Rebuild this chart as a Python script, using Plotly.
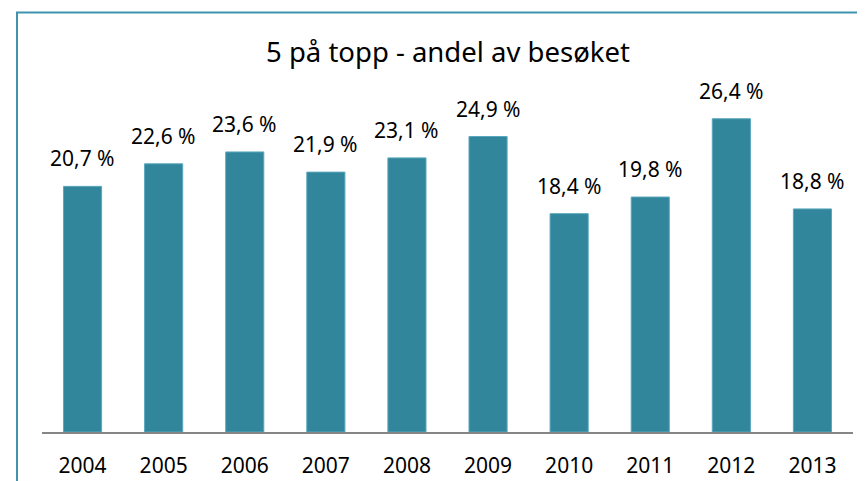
import plotly.graph_objects as go

years = [2004, 2005, 2006, 2007, 2008, 2009, 2010, 2011, 2012, 2013]
shares = [20.7, 22.6, 23.6, 21.9, 23.1, 24.9, 18.4, 19.8, 26.4, 18.8]
labels = [f"{v:.1f} %".replace(".", ",") for v in shares]
year_labels = [str(y) for y in years]
title_text = "5 på topp - andel av besøket"

FONT = "Noto Sans"
BAR = "#31869b"

# The page body has an 8px margin, so the figure is drawn offset by (8, 8).
OFF = 8
W, H = 865 - OFF, 481 - OFF
ml, mr, mt, mb = 42 - OFF, 12, 75.5 - OFF, 49
pw = W - ml - mr
ph = H - mt - mb


def px(xp):
    return (xp - OFF - ml) / pw


def py(yp):
    return (H - mb - (yp - OFF)) / ph


fig = go.Figure()
fig.add_trace(go.Bar(
    x=years, y=shares,
    marker=dict(color=BAR, line=dict(color="#5aa8bd", width=1)),
    width=0.47,
    hoverinfo="x+y",
))

for x, y, t in zip(years, shares, labels):
    fig.add_annotation(x=x, y=y, text=t, showarrow=False, yanchor="bottom",
                       yshift=12, font=dict(family=FONT, size=21, color="#000000"))

fig.add_shape(type="rect", xref="paper", yref="paper",
              x0=px(17), x1=px(900), y0=py(520), y1=py(12),
              line=dict(color="#3f93ad", width=2), fillcolor="rgba(0,0,0,0)",
              layer="above")

fig.update_layout(
    width=W, height=H,
    margin=dict(l=ml, r=mr, t=mt, b=mb, autoexpand=False),
    paper_bgcolor="white", plot_bgcolor="white",
    showlegend=False,
    title=dict(text=title_text, x=px(448), xanchor="center", xref="paper",
               y=1 - (52.5 - OFF) / H, yanchor="middle", yref="container",
               font=dict(family=FONT, size=27.5, color="#000000")),
    font=dict(family=FONT, color="#000000"),
)
fig.update_xaxes(type="linear", range=[years[0] - 0.5, years[-1] + 0.5],
                 tickmode="array", tickvals=years, ticktext=year_labels,
                 showline=True, linecolor="#868686", linewidth=2,
                 ticks="", tickfont=dict(family=FONT, size=21, color="#000000"),
                 ticklabelstandoff=14, showgrid=False, zeroline=False,
                 automargin=False)
fig.update_yaxes(range=[0, 30], visible=False, showgrid=False, zeroline=False,
                 automargin=False)

fig.write_html("out.html")
